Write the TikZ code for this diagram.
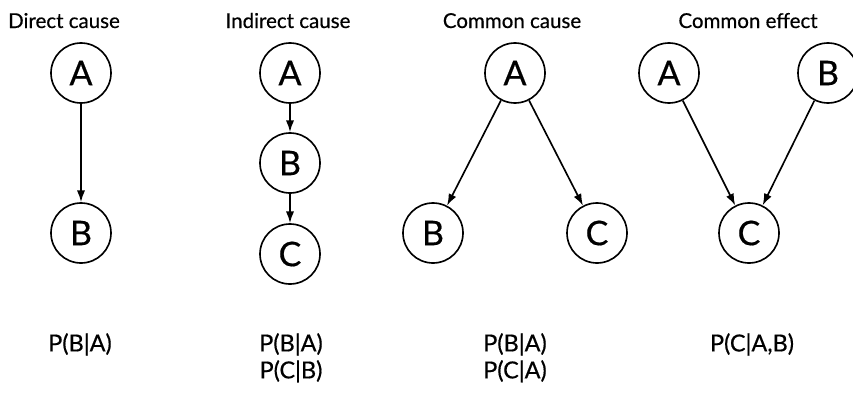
\documentclass[tikz,border=0pt]{standalone}
\usepackage{fontspec}
\setmainfont[FakeBold=0.5]{Lato}
\usetikzlibrary{arrows.meta}
\begin{document}
\begin{tikzpicture}[x=0.03cm,y=-0.03cm,
    var/.style={draw,circle,line width=1.4pt,minimum size=1.8cm,inner sep=0pt,font=\fontsize{29}{29}\selectfont},
    ttl/.style={anchor=base,font=\fontsize{17.5}{17.5}\selectfont},
    prob/.style={anchor=north,inner sep=0pt,align=center,font=\fontsize{20}{23}\selectfont},
    edge/.style={-{Latex[length=10pt,width=7pt]},line width=1.4pt}]
    \useasboundingbox (0,0) rectangle (853,393);
    % Direct cause %
    \node[ttl] (t1) at (64,28) {Direct cause};
    \node[var] (a1) at (81,73) {A};
    \node[var] (b1) at (81,233) {B};
    \draw[edge] (a1) -- (b1);
    \node[prob] (p1) at (80,333) {P(B|A)};

    % Indirect cause %
    \node[ttl] (t2) at (288,28) {Indirect cause};
    \node[var] (a2) at (290,73) {A};
    \node[var] (b2) at (290,163) {B};
    \node[var] (c2) at (290,254) {C};
    \draw[edge] (a2) -- (b2);
    \draw[edge] (b2) -- (c2);
    \node[prob] (p2) at (291,333) {P(B|A)\\P(C|B)};

    % Common cause %
    \node[ttl] (t3) at (512,28) {Common cause};
    \node[var] (a3) at (515,73) {A};
    \node[var] (b3) at (433,233) {B};
    \node[var] (c3) at (597,233) {C};
    \draw[edge] (a3) -- (b3);
    \draw[edge] (a3) -- (c3);
    \node[prob] (p3) at (515,333) {P(B|A)\\P(C|A)};

    % Common effect %
    \node[ttl] (t4) at (748,28) {Common effect};
    \node[var] (a4) at (669,73) {A};
    \node[var] (b4) at (828,73) {B};
    \node[var] (c4) at (749,233) {C};
    \draw[edge] (a4) -- (c4);
    \draw[edge] (b4) -- (c4);
    \node[prob] (p4) at (752,333) {P(C|A,B)};
\end{tikzpicture}
\end{document}
